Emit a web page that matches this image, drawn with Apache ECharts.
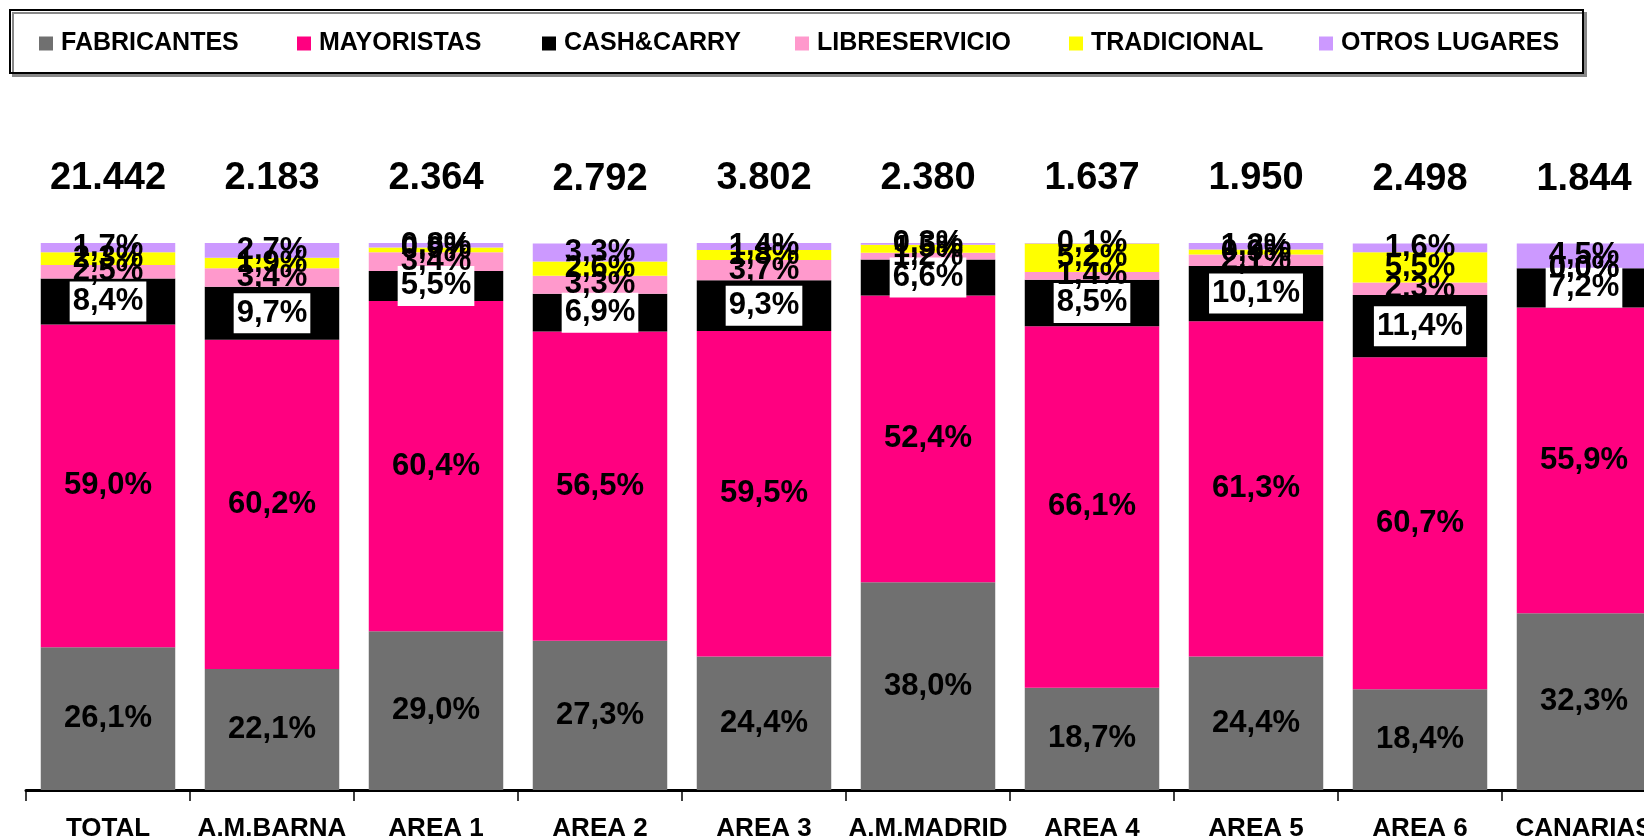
<!DOCTYPE html>
<html>
<head>
<meta charset="utf-8">
<title>Distribución por canal</title>
<script src="https://cdn.jsdelivr.net/npm/echarts@6/dist/echarts.min.js"></script>
<style>
  html, body { margin: 0; padding: 0; background: #fff; }
  #chart { width: 1644px; height: 840px; }
</style>
</head>
<body>
<div id="chart"></div>
<script>
// Regions (categories) and purchase-channel shares (%) per region
const categories = ['TOTAL', 'A.M.BARNA', 'AREA 1', 'AREA 2', 'AREA 3', 'A.M.MADRID', 'AREA 4', 'AREA 5', 'AREA 6', 'CANARIAS'];
const fabricantes   = [26.1, 22.1, 29.0, 27.3, 24.4, 38.0, 18.7, 24.4, 18.4, 32.3];
const mayoristas    = [59.0, 60.2, 60.4, 56.5, 59.5, 52.4, 66.1, 61.3, 60.7, 55.9];
const cashCarry     = [8.4, 9.7, 5.5, 6.9, 9.3, 6.6, 8.5, 10.1, 11.4, 7.2];
const libreservicio = [2.5, 3.4, 3.4, 3.3, 3.7, 1.2, 1.4, 2.1, 2.3, 0.0];
const tradicional   = [2.3, 1.9, 0.9, 2.6, 1.8, 1.5, 5.2, 0.9, 5.5, 0.0];
const otrosLugares  = [1.7, 2.7, 0.8, 3.3, 1.4, 0.3, 0.1, 1.2, 1.6, 4.5];
// Totals shown above each column
const totals = [21442, 2183, 2364, 2792, 3802, 2380, 1637, 1950, 2498, 1844];

const seriesNames = ['FABRICANTES', 'MAYORISTAS', 'CASH&CARRY', 'LIBRESERVICIO', 'TRADICIONAL', 'OTROS LUGARES'];
const seriesData = [fabricantes, mayoristas, cashCarry, libreservicio, tradicional, otrosLugares];
const colors = ['#707070', '#FF0080', '#000000', '#FF99CC', '#FFFF00', '#CC99FF'];

const FONT = '"Liberation Sans", Arial, sans-serif';

function pct(v) { return v.toFixed(1).replace('.', ',') + '%'; }
function thousands(n) {
  return String(n).replace(/\B(?=(\d{3})+(?!\d))/g, '.');
}

const stackTops = categories.map((_, i) => seriesData.reduce((s, arr) => s + arr[i], 0));

const barSeries = seriesNames.map((name, k) => {
  const label = {
    show: true,
    position: 'inside',
    fontFamily: FONT,
    fontWeight: 'bold',
    fontSize: 31,
    color: '#000',
    formatter: p => pct(p.value)
  };
  if (k === 2) {
    label.backgroundColor = '#fff';
    label.padding = [5, 3, 4, 3];
  }
  return {
    name: name,
    type: 'bar',
    stack: 'share',
    barCategoryGap: '18%',
    data: seriesData[k],
    itemStyle: { color: colors[k] },
    label: label,
    emphasis: { disabled: true }
  };
});

// Column totals drawn just above each stack
barSeries.push({
  name: 'totales',
  type: 'scatter',
  data: stackTops,
  symbol: 'circle',
  symbolSize: 0,
  clip: false,
  itemStyle: { color: '#000' },
  label: {
    show: true,
    position: 'top',
    distance: 45,
    fontFamily: FONT,
    fontWeight: 'bold',
    fontSize: 38,
    color: '#000',
    opacity: 1,
    formatter: p => thousands(totals[p.dataIndex])
  },
  emphasis: { disabled: true },
  z: 5
});

const legendLefts = [39, 297, 542, 795, 1069, 1319];
const legends = seriesNames.map((name, k) => ({
  data: [name],
  left: legendLefts[k],
  top: 31,
  padding: 0,
  itemWidth: 14,
  itemHeight: 14,
  icon: 'rect',
  selectedMode: false,
  textStyle: {
    fontFamily: FONT,
    fontWeight: 'bold',
    fontSize: 25,
    color: '#000',
    padding: [0, 0, 0, 3]
  }
}));

const chart = echarts.init(document.getElementById('chart'), null, { renderer: 'canvas' });
chart.setOption({
  animation: false,
  backgroundColor: '#fff',
  color: colors,
  graphic: [{
    type: 'rect',
    z: -1,
    shape: { x: 10, y: 10, width: 1573, height: 63 },
    style: {
      fill: '#fff',
      stroke: '#000',
      lineWidth: 2,
      shadowColor: '#888',
      shadowOffsetX: 3,
      shadowOffsetY: 3,
      shadowBlur: 0
    }
  }],
  legend: legends,
  grid: { left: 26, top: 243, width: 1640, height: 547, containLabel: false, outerBoundsMode: 'none' },
  xAxis: {
    type: 'category',
    data: categories,
    axisLine: { lineStyle: { color: '#000', width: 3 } },
    axisTick: { show: true, length: 11, lineStyle: { color: '#000', width: 1.5 } },
    axisLabel: {
      margin: 26,
      fontFamily: FONT,
      fontWeight: 'bold',
      fontSize: 26,
      color: '#000',
      interval: 0
    }
  },
  yAxis: {
    type: 'value',
    min: 0,
    max: 100,
    show: false,
    splitLine: { show: false }
  },
  series: barSeries
});
</script>
</body>
</html>
